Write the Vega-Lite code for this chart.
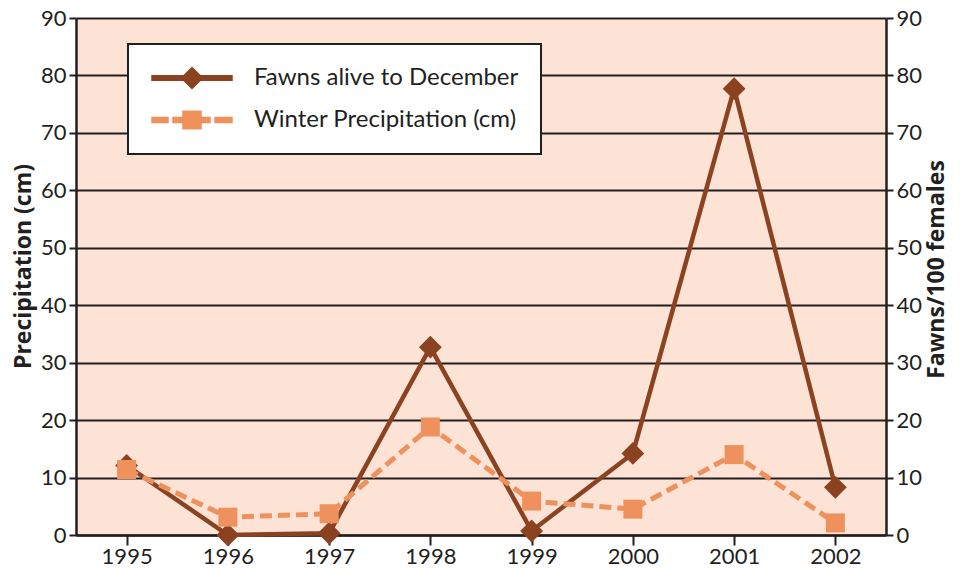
{
  "$schema": "https://vega.github.io/schema/vega-lite/v6.json",
  "width": 810,
  "height": 517,
  "autosize": {"type": "none"},
  "padding": {"left": 76, "top": 18, "right": 77, "bottom": 45},
  "background": "white",
  "config": {
    "view": {"fill": "#FCE3D5", "stroke": null},
    "font": "Lato",
    "axis": {
      "labelFont": "Lato", "labelFontSize": 22, "labelColor": "#231F20",
      "titleFont": "Open Sans", "titleFontSize": 23, "titleFontWeight": "bold", "titleColor": "#231F20",
      "domainColor": "#231F20", "domainWidth": 2.5,
      "tickColor": "#231F20", "tickWidth": 2, "tickSize": 7,
      "gridColor": "#231F20", "gridWidth": 2, "gridOpacity": 1
    }
  },
  "data": {"values": [
    {"year": "1995", "fawns": 12.1, "precip": 11.4},
    {"year": "1996", "fawns": 0, "precip": 3.1},
    {"year": "1997", "fawns": 0.3, "precip": 3.7},
    {"year": "1998", "fawns": 32.7, "precip": 18.8},
    {"year": "1999", "fawns": 0.7, "precip": 5.9},
    {"year": "2000", "fawns": 14.2, "precip": 4.5},
    {"year": "2001", "fawns": 77.7, "precip": 14.0},
    {"year": "2002", "fawns": 8.3, "precip": 2.1}
  ]},
  "encoding": {
    "x": {
      "field": "year", "type": "ordinal",
      "scale": {"type": "point", "padding": 0.5},
      "axis": {"title": null, "labelAngle": 0, "tickSize": 10, "labelPadding": 1, "grid": false}
    }
  },
  "layer": [
    {
      "encoding": {
        "y": {
          "field": "fawns", "type": "quantitative",
          "scale": {"domain": [0, 90], "nice": false},
          "axis": {"title": "Fawns/100 females", "orient": "right", "values": [0,10,20,30,40,50,60,70,80,90], "grid": false, "labelPadding": 3, "titleAngle": 270, "titlePadding": 27, "titleY": 251}
        },
        "color": {
          "datum": "Fawns alive to December",
          "scale": {"domain": ["Fawns alive to December", "Winter Precipitation (cm)"], "range": ["#8B4220", "#EF915C"]},
          "legend": {
            "title": null,
            "orient": "none", "legendX": 52, "legendY": 26,
            "padding": 22, "fillColor": "white", "strokeColor": "#231F20", "cornerRadius": 0,
            "labelFont": "Lato", "labelFontSize": 24, "labelColor": "#231F20", "labelLimit": 500,
            "symbolSize": 400, "labelOffset": 80, "rowPadding": 16,
            "encode": {
              "legend": {"update": {"strokeWidth": {"value": 2}}},
              "symbols": {
                "update": {
                  "shape": {"signal": "datum.value === 'Fawns alive to December' ? 'M-1,-0.22L7,-0.22L7,0.22L-1,0.22Z M3,-1.05L4.05,0L3,1.05L1.95,0Z' : 'M-1,-0.24L0.6,-0.24L0.6,0.24L-1,0.24Z M1.1,-0.24L2.2,-0.24L2.2,0.24L1.1,0.24Z M2.1,-0.88L3.9,-0.88L3.9,0.88L2.1,0.88Z M3.8,-0.24L4.8,-0.24L4.8,0.24L3.8,0.24Z M5.3,-0.24L7,-0.24L7,0.24L5.3,0.24Z'"},
                  "fill": {"signal": "datum.value === 'Fawns alive to December' ? '#8B4220' : '#EF915C'"},
                  "fillOpacity": {"value": 1},
                  "opacity": {"value": 1},
                  "stroke": {"value": "transparent"}
                }
              }
            }
          }
        }
      },
      "layer": [
        {"mark": {"type": "line", "strokeWidth": 4.5}},
        {"mark": {"type": "point", "shape": "diamond", "filled": true, "opacity": 1, "size": 520}}
      ]
    },
    {
      "encoding": {
        "y": {
          "field": "precip", "type": "quantitative",
          "scale": {"domain": [0, 90], "nice": false},
          "axis": {"title": "Precipitation (cm)", "orient": "left", "values": [0,10,20,30,40,50,60,70,80,90], "grid": true, "labelPadding": 3, "titlePadding": 5, "titleY": 248}
        },
        "color": {"datum": "Winter Precipitation (cm)"}
      },
      "layer": [
        {"mark": {"type": "line", "strokeWidth": 5, "strokeDash": [12, 6]}},
        {"mark": {"type": "point", "shape": "square", "filled": true, "opacity": 1, "size": 360}}
      ]
    }
  ],
  "resolve": {"scale": {"y": "independent"}}
}
